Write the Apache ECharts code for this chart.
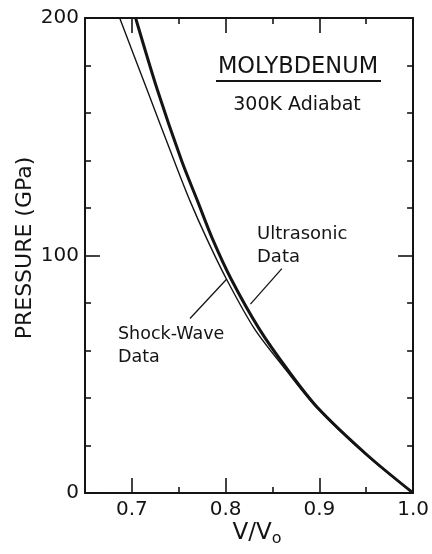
<!DOCTYPE html>
<html>
<head>
<meta charset="utf-8">
<script src="https://cdn.jsdelivr.net/npm/echarts@6/dist/echarts.min.js"></script>
<style>
  html, body { margin: 0; padding: 0; background: #fff; }
  #chart { width: 432px; height: 554px; }
</style>
</head>
<body>
<div id="chart"></div>
<script>
// Molybdenum 300 K adiabat: pressure (GPa) against relative volume V/V0
const pressure = [200, 170, 140, 123, 107, 90, 69, 52, 36, 16, 0];
const shockWaveV = [0.687, 0.716, 0.745, 0.762, 0.780, 0.801, 0.831, 0.864, 0.897, 0.950, 1.0];
const ultrasonicV = [0.704, 0.727, 0.753, 0.770, 0.786, 0.806, 0.836, 0.866, 0.898, 0.951, 1.0];

// axis ticks
const xMajor = [0.7, 0.8, 0.9, 1.0];
const xMinor = [0.75, 0.85, 0.95];
const yMajor = [0, 100, 200];
const yMinor = [20, 40, 60, 80, 120, 140, 160, 180];

// arrow anchors (V/V0, GPa): tail then head
const shockArrow = [[0.762, 73.5], [0.801, 90]];
const ultraArrow = [[0.860, 94.5], [0.8265, 79.5]];

const INK = '#141414';
const FONT = 'DejaVu Sans';

const pairs = (vs, ps) => vs.map((v, i) => [v, ps[i]]);

function xAxisDef(pos, ticks, len, labels, line) {
  return {
    type: 'value', position: pos, min: 0.65, max: 1.0,
    axisLine: { show: line, onZero: false, lineStyle: { color: INK, width: 2 } },
    axisTick: { show: true, inside: true, length: len, customValues: ticks,
                lineStyle: { color: INK, width: 1.6 } },
    axisLabel: labels ? { show: true, inside: false, customValues: ticks, margin: 7,
                          formatter: v => v.toFixed(1),
                          color: INK, fontFamily: FONT, fontSize: 20 }
                      : { show: false },
    splitLine: { show: false }
  };
}
function yAxisDef(pos, ticks, len, labels, line) {
  return {
    type: 'value', position: pos, min: 0, max: 200,
    axisLine: { show: line, onZero: false, lineStyle: { color: INK, width: 2 } },
    axisTick: { show: true, inside: true, length: len, customValues: ticks,
                lineStyle: { color: INK, width: 1.6 } },
    axisLabel: labels ? { show: true, inside: false, customValues: ticks, margin: 6,
                          color: INK, fontFamily: FONT, fontSize: 20 }
                      : { show: false },
    splitLine: { show: false }
  };
}

function arrowLine(a, curve) {
  return {
    silent: true,
    symbol: ['none', 'arrow'],
    symbolSize: [0, 10],
    label: { show: false },
    lineStyle: { color: INK, width: 1.3, type: 'solid', curveness: curve },
    data: [[{ coord: a[0] }, { coord: a[1] }]]
  };
}

const chart = echarts.init(document.getElementById('chart'), null, { renderer: 'canvas' });
chart.setOption({
  animation: false,
  backgroundColor: '#fff',
  grid: { left: 85, right: 15, top: 18, bottom: 61 },
  xAxis: [
    xAxisDef('bottom', xMajor, 15, true, true),
    xAxisDef('bottom', xMinor, 6, false, false),
    xAxisDef('top', xMajor, 15, false, true),
    xAxisDef('top', xMinor, 6, false, false)
  ],
  yAxis: [
    yAxisDef('left', yMajor, 15, true, true),
    yAxisDef('left', yMinor, 6, false, false),
    yAxisDef('right', yMajor, 15, false, true),
    yAxisDef('right', yMinor, 6, false, false)
  ],
  series: [
    {
      name: 'Shock-Wave Data', type: 'line', xAxisIndex: 0, yAxisIndex: 0,
      data: pairs(shockWaveV, pressure), smooth: 0.3, showSymbol: false,
      lineStyle: { color: INK, width: 1.4 },
      markLine: arrowLine(shockArrow, 0.05)
    },
    {
      name: 'Ultrasonic Data', type: 'line', xAxisIndex: 0, yAxisIndex: 0,
      data: pairs(ultrasonicV, pressure), smooth: 0.3, showSymbol: false,
      lineStyle: { color: INK, width: 3 },
      markLine: arrowLine(ultraArrow, -0.12)
    }
  ],
  graphic: [
    { type: 'text', x: 25, y: 248, rotation: Math.PI / 2,
      style: { text: 'PRESSURE (GPa)', fill: INK, font: '22px "DejaVu Sans"',
               textAlign: 'center', textVerticalAlign: 'middle' } },
    { type: 'text', x: 257, y: 533,
      style: { text: 'V/V{s|o}', fill: INK, font: '23px "DejaVu Sans"',
               textAlign: 'center', textVerticalAlign: 'middle',
               rich: { s: { fontSize: 16, fontFamily: FONT, fill: INK, padding: [12, 0, 0, 0] } } } },
    { type: 'text', x: 298, y: 67,
      style: { text: 'MOLYBDENUM', fill: INK, font: '22.5px "DejaVu Sans"',
               textAlign: 'center', textVerticalAlign: 'middle' } },
    { type: 'line', shape: { x1: 216, y1: 81, x2: 381, y2: 81 },
      style: { stroke: INK, lineWidth: 2 } },
    { type: 'text', x: 297, y: 105,
      style: { text: '300K Adiabat', fill: INK, font: '19px "DejaVu Sans"',
               textAlign: 'center', textVerticalAlign: 'middle' } },
    { type: 'text', x: 257, y: 234,
      style: { text: 'Ultrasonic', fill: INK, font: '18px "DejaVu Sans"',
               textAlign: 'left', textVerticalAlign: 'middle' } },
    { type: 'text', x: 257, y: 257,
      style: { text: 'Data', fill: INK, font: '18px "DejaVu Sans"',
               textAlign: 'left', textVerticalAlign: 'middle' } },
    { type: 'text', x: 118, y: 334,
      style: { text: 'Shock-Wave', fill: INK, font: '17.5px "DejaVu Sans"',
               textAlign: 'left', textVerticalAlign: 'middle' } },
    { type: 'text', x: 118, y: 357,
      style: { text: 'Data', fill: INK, font: '17.5px "DejaVu Sans"',
               textAlign: 'left', textVerticalAlign: 'middle' } }
  ]
});
</script>
</body>
</html>
